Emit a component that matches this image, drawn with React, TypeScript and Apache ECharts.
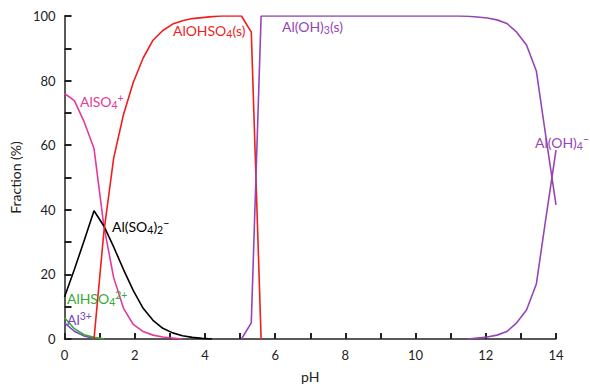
import React, { useEffect, useRef } from "react";
import * as echarts from "echarts";

// ---- data (pH grid step 0.28) ----
const al3PH = [0, 0.28, 0.56, 0.84];
const al3 = [5.0, 2.4, 0.9, 0.2];

const alhso4PH = [0, 0.28, 0.56, 0.84, 1.12];
const alhso4 = [6.6, 3.2, 1.3, 0.5, 0.1];

const also4PH = [0, 0.28, 0.56, 0.84, 1.12, 1.4, 1.68, 1.96, 2.24, 2.52, 2.8, 3.08, 3.36];
const also4 = [76, 73.8, 67.2, 59, 35, 19, 9.5, 4.5, 2.3, 1.2, 0.6, 0.3, 0];

const also42PH = [0, 0.28, 0.56, 0.84, 1.12, 1.4, 1.68, 1.96, 2.24, 2.52, 2.8, 3.08, 3.36, 3.64, 3.92, 4.2];
const also42 = [13, 21.5, 30.5, 39.7, 35, 28.5, 21.5, 15, 9.5, 5.8, 3.3, 1.9, 1.0, 0.5, 0.2, 0];

const alohso4PH = [0.84, 1.12, 1.4, 1.68, 1.96, 2.24, 2.52, 2.8, 3.08, 3.36, 3.64, 3.92, 4.2, 4.48, 4.76, 5.04, 5.32, 5.6];
const alohso4 = [0, 33, 56, 69.5, 79.5, 87, 92.5, 95.5, 97.5, 98.5, 99.2, 99.5, 99.8, 100, 100, 100, 95, 0];

const aloh3PH = [5.04, 5.32, 5.6, 11.2, 11.48, 11.76, 12.04, 12.32, 12.6, 12.88, 13.16, 13.44, 13.72, 14.0];
const aloh3 = [0, 5, 100, 100, 99.9, 99.7, 99.4, 98.8, 97.7, 95, 91, 83, 62, 41.5];

const aloh4PH = [11.48, 11.76, 12.04, 12.32, 12.6, 12.88, 13.16, 13.44, 13.72, 14.0];
const aloh4 = [0, 0.3, 0.6, 1.2, 2.3, 5, 9, 17, 38, 58.5];

const xTicks = [0, 2, 4, 6, 8, 10, 12, 14];
const yTicks = [0, 20, 40, 60, 80, 100];

const FONT = "Lato, 'Liberation Sans', sans-serif";
const C_RED = "#f01e1e";
const C_PINK = "#e33a9c";
const C_BLACK = "#000000";
const C_GREEN = "#3aa83a";
const C_AL3 = "#7447c0";
const C_AL = "#9546b4";
const AXIS_C = "#222";

const pairs = (xs: number[], ys: number[]) => xs.map((x, i) => [x, ys[i]]);

function label(x: number, y: number, parts: [string, string][], color: string) {
  const text = parts.map(([k, t]) => `{${k}|${t}}`).join("");
  return {
    type: "text",
    x,
    y,
    style: {
      text,
      fill: color,
      verticalAlign: "middle",
      align: "left",
      rich: {
        n: { fontSize: 14, fontFamily: FONT, fill: color, lineHeight: 18 },
        b: { fontSize: 10.5, fontFamily: FONT, fill: color, lineHeight: 12, verticalAlign: "bottom" },
        p: { fontSize: 10.5, fontFamily: FONT, fill: color, lineHeight: 13, verticalAlign: "top" },
      },
    },
    z: 100,
  };
}

function makeAxis(tickLen: number, extra: any) {
  return {
    type: "value",
    nameLocation: "middle",
    nameTextStyle: { fontSize: 14, fontFamily: FONT, color: AXIS_C },
    axisLine: { show: true, lineStyle: { color: AXIS_C, width: 1.5 } },
    axisTick: { show: true, inside: true, length: tickLen, lineStyle: { color: AXIS_C, width: 2 } },
    minorTick: { show: true, splitNumber: 2, length: tickLen, lineStyle: { color: AXIS_C, width: 2 } },
    axisLabel: { fontSize: 13, fontFamily: FONT, color: AXIS_C, margin: 9 },
    splitLine: { show: false },
    ...extra,
  };
}

export default function App() {
  const ref = useRef<HTMLDivElement>(null);
  useEffect(() => {
    if (!ref.current) return;
    const chart = echarts.init(ref.current, undefined, { renderer: "svg" });
    const line = (name: string, data: number[][], color: string) => ({
      name,
      type: "line",
      data,
      showSymbol: false,
      symbol: "none",
      lineStyle: { color, width: 1.6 },
      itemStyle: { color },
      z: 3,
    });
    chart.setOption({
      animation: false,
      grid: { left: 62, right: 34, top: 16, bottom: 45, containLabel: false },
      xAxis: makeAxis(6, {
        min: xTicks[0],
        max: xTicks[xTicks.length - 1],
        interval: 2,
        name: "pH",
        nameGap: 30,
      }),
      yAxis: makeAxis(7, {
        min: yTicks[0],
        max: yTicks[yTicks.length - 1],
        interval: 20,
        name: "Fraction (%)",
        nameGap: 34,
      }),
      series: [
        line("Al3+", pairs(al3PH, al3), C_AL3),
        line("AlHSO4 2+", pairs(alhso4PH, alhso4), C_GREEN),
        line("AlSO4+", pairs(also4PH, also4), C_PINK),
        line("Al(SO4)2-", pairs(also42PH, also42), C_BLACK),
        line("AlOHSO4(s)", pairs(alohso4PH, alohso4), C_RED),
        line("Al(OH)3(s)", pairs(aloh3PH, aloh3), C_AL),
        line("Al(OH)4-", pairs(aloh4PH, aloh4), C_AL),
      ],
      graphic: [
        label(173, 30, [["n", "AlOHSO"], ["b", "4"], ["n", "(s)"]], C_RED),
        label(282, 26, [["n", "Al(OH)"], ["b", "3"], ["n", "(s)"]], C_AL),
        label(80, 101, [["n", "AlSO"], ["b", "4"], ["p", "+"]], C_PINK),
        label(112, 226, [["n", "Al(SO"], ["b", "4"], ["n", ")"], ["b", "2"], ["p", "−"]], C_BLACK),
        label(67, 298, [["n", "AlHSO"], ["b", "4"], ["p", "2+"]], C_GREEN),
        label(67, 319, [["n", "Al"], ["p", "3+"]], C_AL3),
        label(535, 142.5, [["n", "Al(OH)"], ["b", "4"], ["p", "−"]], C_AL),
      ],
    });
    return () => chart.dispose();
  }, []);
  return <div ref={ref} style={{ width: 590, height: 388, position: "absolute", left: 0, top: 0 }} />;
}
